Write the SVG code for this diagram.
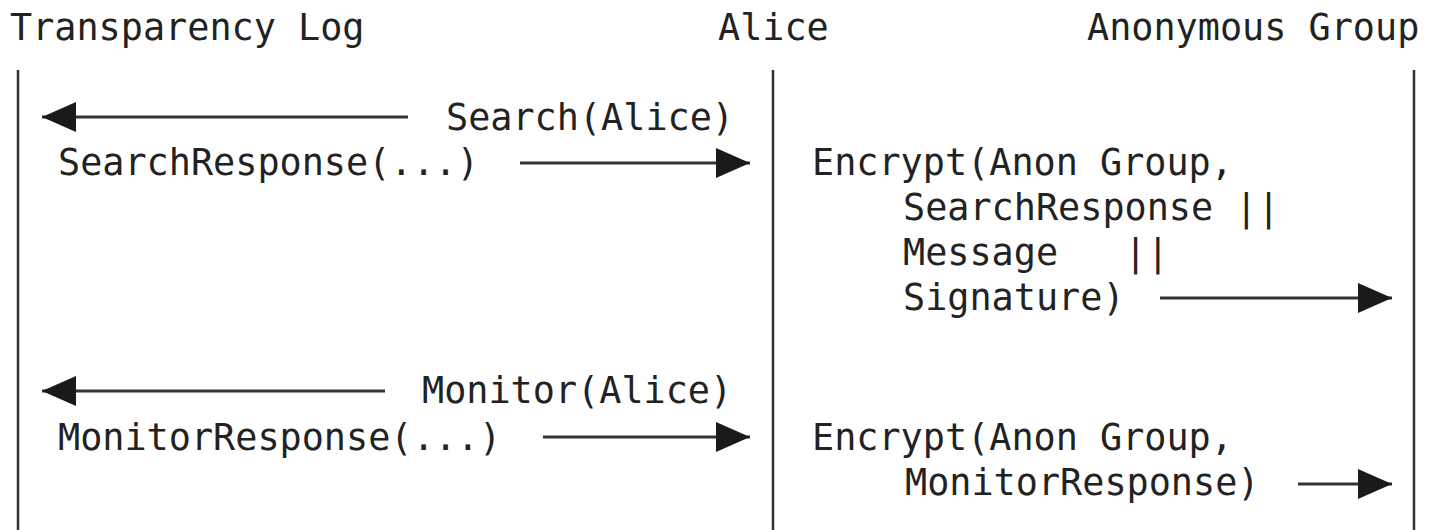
<svg xmlns="http://www.w3.org/2000/svg" width="1431" height="530" viewBox="0 0 1431 530">
<defs>
<style>
text{font-family:"DejaVu Sans Mono","Liberation Mono",monospace;font-size:36.8px;fill:#222}
.life{stroke:#333;stroke-width:2.5}
.msg{stroke:#333;stroke-width:3;fill:none}
</style>
<marker id="ah" viewBox="0 0 34 30" refX="34" refY="15" markerWidth="34" markerHeight="30" markerUnits="userSpaceOnUse" orient="auto">
<path d="M0,0 L34,15 L0,30 Z" fill="#1a1a1a"/>
</marker>
</defs>
<rect width="1431" height="530" fill="#fff"/>
<g id="transparency-log">
<text x="10" y="40">Transparency Log</text>
<line class="life" x1="18" y1="70" x2="18" y2="530"/>
</g>
<g id="alice">
<text x="718" y="40">Alice</text>
<line class="life" x1="773" y1="70" x2="773" y2="530"/>
</g>
<g id="anonymous-group">
<text x="1087" y="40">Anonymous Group</text>
<line class="life" x1="1414" y1="70" x2="1414" y2="530"/>
</g>
<g id="connectors">
<line class="msg" x1="408" y1="117" x2="42" y2="117" marker-end="url(#ah)"/>
<line class="msg" x1="520" y1="163" x2="750" y2="163" marker-end="url(#ah)"/>
<line class="msg" x1="1160" y1="298" x2="1392" y2="298" marker-end="url(#ah)"/>
<line class="msg" x1="385" y1="391" x2="42" y2="391" marker-end="url(#ah)"/>
<line class="msg" x1="543" y1="437" x2="750" y2="437" marker-end="url(#ah)"/>
<line class="msg" x1="1298" y1="484" x2="1392" y2="484" marker-end="url(#ah)"/>
</g>
<g id="labels">
<text x="446" y="130">Search(Alice)</text>
<text x="58" y="175">SearchResponse(...)</text>
<text x="812" y="175">Encrypt(Anon Group,</text>
<text x="903" y="220">SearchResponse ||</text>
<text x="903" y="265" xml:space="preserve">Message   ||</text>
<text x="903" y="310">Signature)</text>
<text x="422" y="403">Monitor(Alice)</text>
<text x="58" y="450">MonitorResponse(...)</text>
<text x="812" y="450">Encrypt(Anon Group,</text>
<text x="905" y="495">MonitorResponse)</text>
</g>
</svg>
